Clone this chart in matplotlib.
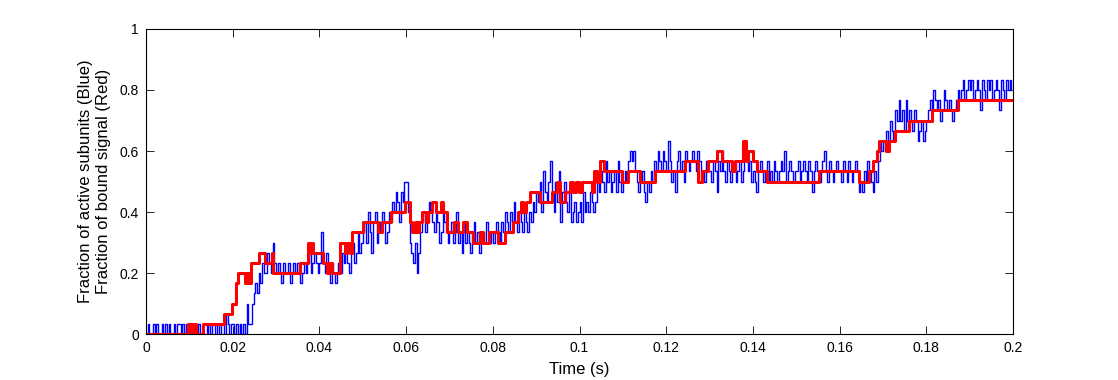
import numpy as np
import matplotlib
matplotlib.use('Agg')
import matplotlib.pyplot as plt
from matplotlib.ticker import FormatStrFormatter

# number of subunits, values are counts out of this
n_sub = 30

# blue trace: active subunits, one sample every dt seconds (rows of 0.01 s)
dt = 0.0004
blue_counts = [
    0, 1, 0, 0, 1, 0, 1, 0, 0, 1, 0, 1, 0, 1, 0, 0, 1, 0, 1, 1, 0, 1, 0, 1, 0,
    1, 0, 1, 0, 0, 1, 0, 0, 1, 1, 0, 1, 0, 1, 1, 0, 1, 0, 1, 1, 0, 2, 1, 0, 1,
    1, 0, 1, 0, 1, 0, 1, 0, 3, 1, 1, 3, 4, 5, 4, 6, 5, 7, 6, 6, 8, 7, 6, 9, 7,
    6, 7, 6, 5, 7, 6, 6, 7, 5, 6, 7, 6, 7, 6, 5, 6, 7, 6, 7, 8, 6, 7, 8, 7, 6,
    7, 10, 7, 6, 8, 6, 5, 7, 6, 5, 6, 7, 6, 8, 7, 8, 7, 6, 8, 9, 7, 8, 10, 8, 9,
    10, 11, 9, 12, 10, 8, 11, 12, 9, 11, 10, 12, 11, 9, 10, 12, 11, 13, 12, 14, 13, 11, 14, 13, 15,
    15, 12, 9, 8, 7, 9, 6, 8, 10, 11, 12, 10, 11, 13, 12, 11, 10, 12, 11, 9, 10, 12, 11, 10, 9,
    10, 11, 9, 10, 12, 9, 10, 8, 11, 9, 10, 9, 8, 10, 11, 9, 10, 8, 9, 10, 9, 11, 10, 9, 10,
    9, 10, 11, 10, 9, 11, 10, 12, 11, 10, 12, 11, 13, 11, 10, 12, 11, 10, 12, 11, 10, 12, 11, 13, 12,
    14, 13, 15, 12, 16, 14, 13, 15, 17, 14, 12, 15, 13, 16, 11, 14, 15, 13, 12, 14, 11, 12, 13, 11, 12,
    13, 11, 14, 12, 13, 12, 14, 13, 12, 13, 15, 14, 16, 15, 14, 17, 15, 16, 14, 15, 16, 14, 17, 15, 14,
    15, 16, 15, 17, 18, 17, 18, 16, 15, 14, 15, 16, 14, 13, 15, 14, 16, 15, 17, 16, 18, 17, 16, 18, 17,
    16, 19, 17, 15, 16, 14, 17, 18, 16, 17, 15, 18, 17, 16, 17, 18, 17, 16, 18, 17, 15, 16, 15, 17, 16,
    16, 15, 17, 16, 14, 17, 16, 18, 16, 15, 17, 16, 15, 16, 17, 15, 16, 17, 15, 16, 18, 17, 16, 17, 15,
    16, 15, 14, 16, 17, 16, 15, 16, 17, 15, 16, 15, 17, 16, 15, 16, 17, 16, 18, 15, 16, 17, 16, 15, 16,
    16, 17, 15, 16, 17, 16, 15, 17, 16, 14, 16, 17, 16, 15, 16, 17, 18, 16, 15, 17, 16, 15, 16, 17, 16,
    16, 15, 17, 16, 15, 17, 16, 15, 16, 17, 16, 14, 15, 14, 16, 15, 17, 16, 15, 14, 16, 15, 17, 19, 18,
    19, 18, 20, 19, 21, 20, 19, 22, 21, 23, 21, 22, 20, 23, 21, 22, 21, 20, 22, 21, 19, 20, 21, 19, 20,
    21, 22, 23, 22, 24, 23, 22, 23, 21, 22, 24, 23, 22, 23, 22, 21, 22, 23, 24, 23, 24, 25, 23, 24, 25,
    24, 25, 23, 24, 25, 24, 22, 25, 24, 23, 25, 24, 25, 23, 24, 25, 24, 22, 25, 24, 23, 25, 24, 25, 24,
]

# red trace: bound signal, level changes (time in s, count)
red_t = [
    0.0, 0.0097, 0.0104, 0.0108, 0.0115, 0.0131, 0.0180, 0.0198, 0.0208, 0.0212,
    0.0228, 0.0233, 0.0238, 0.0242, 0.0261, 0.0275, 0.0291, 0.0293, 0.0355, 0.0374,
    0.0378, 0.0383, 0.0385, 0.0408, 0.0418, 0.0422, 0.0429, 0.0448, 0.0459, 0.0464,
    0.0471, 0.0475, 0.0501, 0.0535, 0.0544, 0.0565, 0.0597, 0.0609, 0.0614, 0.0621,
    0.0625, 0.0630, 0.0637, 0.0646, 0.0651, 0.0660, 0.0669, 0.0681, 0.0685, 0.0694,
    0.0711, 0.0720, 0.0731, 0.0740, 0.0754, 0.0770, 0.0777, 0.0791, 0.0812, 0.0828,
    0.0847, 0.0858, 0.0865, 0.0870, 0.0877, 0.0886, 0.0909, 0.0937, 0.0948, 0.0955,
    0.0967, 0.0978, 0.0985, 0.0992, 0.0999, 0.1006, 0.1029, 0.1033, 0.1040, 0.1047,
    0.1057, 0.1098, 0.1112, 0.1140, 0.1174, 0.1243, 0.1273, 0.1283, 0.1296, 0.1317,
    0.1329, 0.1352, 0.1359, 0.1377, 0.1384, 0.1389, 0.1400, 0.1409, 0.1433, 0.1552,
    0.1645, 0.1668, 0.1677, 0.1686, 0.1691, 0.1707, 0.1714, 0.1728, 0.1760, 0.1813,
    0.1873, 0.2,
]
red_counts = [
    0, 1, 0, 1, 0, 1, 2, 3, 5, 6,
    5, 6, 5, 7, 8, 7, 8, 6, 7, 9,
    8, 9, 8, 7, 6, 7, 6, 9, 8, 9,
    8, 10, 11, 10, 11, 12, 13, 11, 10, 11,
    10, 11, 12, 11, 12, 13, 12, 13, 12, 10,
    11, 10, 11, 10, 9, 10, 9, 10, 9, 10,
    11, 12, 13, 12, 13, 14, 13, 14, 15, 13,
    14, 15, 14, 15, 14, 15, 14, 16, 15, 17,
    16, 15, 16, 15, 16, 17, 15, 16, 17, 18,
    17, 16, 17, 19, 17, 18, 17, 16, 15, 16,
    15, 16, 17, 18, 19, 18, 19, 20, 21, 22,
    23, 23,
]

blue_t = np.arange(len(blue_counts)) * dt
blue_y = np.array(blue_counts) / n_sub
red_y = np.array(red_counts) / n_sub

plt.rcParams['font.family'] = ['Liberation Sans', 'DejaVu Sans']

fig = plt.figure(figsize=(11.18, 3.80), dpi=100)
ax = fig.add_axes([0.1306, 0.121, 0.7755, 0.8027])

ax.plot(blue_t, blue_y, color=(0, 0, 1), lw=1.0, drawstyle='steps-post')
ax.plot(red_t, red_y, color=(1, 0, 0), lw=2.2, drawstyle='steps-post')

ax.set_xlim(0, 0.2)
ax.set_ylim(0, 1)
ax.set_xticks(np.arange(0, 0.2001, 0.02))
ax.set_yticks(np.arange(0, 1.001, 0.2))
ax.xaxis.set_major_formatter(FormatStrFormatter('%g'))
ax.yaxis.set_major_formatter(FormatStrFormatter('%g'))
ax.tick_params(direction='in', length=6, width=0.6, top=True, right=True,
               labelsize=10, pad=5)
for s in ax.spines.values():
    s.set_linewidth(0.8)

ax.set_xlabel('Time (s)', fontsize=12, labelpad=5)
ax.set_ylabel('Fraction of active subunits (Blue)\nFraction of bound signal (Red)',
              fontsize=12, labelpad=6, linespacing=1.3)

fig.savefig('out.png', dpi=100, facecolor='white')
